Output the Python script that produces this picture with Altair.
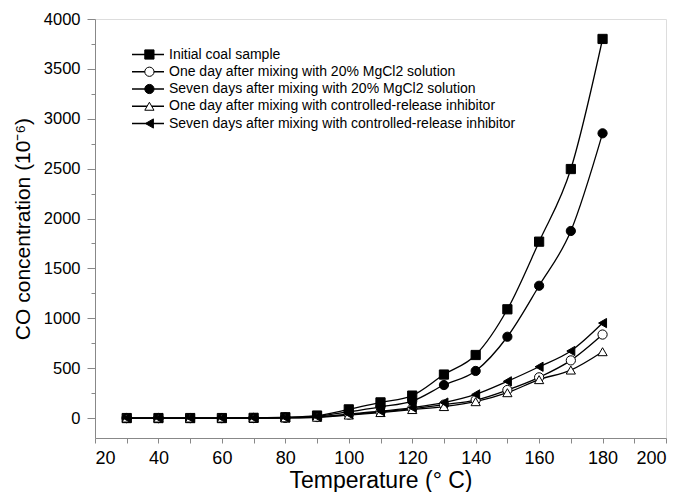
import altair as alt
import pandas as pd

temps = [30, 40, 50, 60, 70, 80, 90, 100, 110, 120, 130, 140, 150, 160, 170, 180]
series_names = [
    "Initial coal sample",
    "One day after mixing with 20% MgCl2 solution",
    "Seven days after mixing with 20% MgCl2 solution",
    "One day after mixing with controlled-release inhibitor",
    "Seven days after mixing with controlled-release inhibitor",
]
initial = [0, 0, 0, 0, 2, 8, 25, 87, 157, 225, 436, 632, 1090, 1768, 2496, 3800]
one_mgcl2 = [0, 0, 0, 0, 0, 3, 10, 35, 62, 95, 135, 180, 281, 408, 578, 837]
seven_mgcl2 = [0, 0, 0, 0, 1, 5, 18, 63, 113, 170, 331, 472, 815, 1326, 1875, 2854]
one_inhib = [0, 0, 0, 0, 0, 2, 8, 30, 55, 85, 115, 164, 254, 385, 481, 665]
seven_inhib = [0, 0, 0, 0, 1, 4, 12, 40, 68, 105, 155, 237, 368, 514, 672, 952]

shapes = ["square", "circle", "circle", "triangle-up", "triangle-left"]
fills = ["black", "white", "black", "white", "black"]

# marker keys (distinct domain so the marker legend is not merged with the line legend)
marker_keys = [n + " " for n in series_names]

rows = []
for name, key, vals in zip(series_names, marker_keys, [initial, one_mgcl2, seven_mgcl2, one_inhib, seven_inhib]):
    for t, v in zip(temps, vals):
        rows.append({"T": t, "CO": v, "series": name, "marker": key})
df = pd.DataFrame(rows)

FONT = "Liberation Sans"

x = alt.X(
    "T:Q",
    scale=alt.Scale(domain=[20, 200], nice=False),
    axis=alt.Axis(
        values=list(range(20, 201, 10)),
        labelExpr="datum.value % 20 == 0 ? datum.label : ''",
        tickSize=5,
        labelPadding=6,
        labelFontSize=18,
        titleFontSize=23,
        titleBaseline="alphabetic",
        titleY=49,
        titleFontWeight="normal",
        grid=False,
    ),
    title="Temperature (° C)",
)
y = alt.Y(
    "CO:Q",
    scale=alt.Scale(domain=[-200, 4000], nice=False),
    axis=alt.Axis(
        values=list(range(0, 4001, 250)),
        labelExpr="datum.value % 500 == 0 ? datum.label : ''",
        format="d",
        tickSize={"condition": {"test": "datum.value % 500 == 0", "value": 8}, "value": 4},
        labelPadding=7,
        labelFontSize=16.5,
        titleFontSize=21,
        titlePadding=10,
        titleFontWeight="normal",
        grid=False,
    ),
    title="CO concentration (10⁻⁶)",
)

base = alt.Chart(df)

lines = base.mark_line(interpolate="monotone", strokeWidth=1.3).encode(
    x=x,
    y=y,
    color=alt.Color(
        "series:N",
        scale=alt.Scale(domain=series_names, range=["black"] * 5),
        legend=alt.Legend(
            orient="none",
            legendX=36,
            legendY=27,
            title=None,
            symbolType="stroke",
            symbolSize=1024,
            symbolStrokeWidth=1.3,
            labelOffset=4,
            labelFont=FONT,
            labelFontSize=14,
            labelColor="black",
            clipHeight=17,
            rowPadding=0.25,
            padding=0,
            labelLimit=500,
        ),
    ),
)

shape_legend = alt.Legend(
    orient="none",
    legendX=47.4,
    legendY=27,
    title=None,
    symbolSize=85,
    symbolStrokeColor="black",
    symbolStrokeWidth=1,
    symbolOpacity=1,
    labelExpr="''",
    clipHeight=17,
    rowPadding=0.25,
    padding=0,
    labelFontSize=14,
)

points = base.mark_point(filled=True, strokeWidth=1, size=85, opacity=1).encode(
    x=x,
    y=y,
    shape=alt.Shape("marker:N", scale=alt.Scale(domain=marker_keys, range=shapes), legend=shape_legend),
    fill=alt.Fill("marker:N", scale=alt.Scale(domain=marker_keys, range=fills), legend=shape_legend),
    stroke=alt.Stroke("marker:N", scale=alt.Scale(domain=marker_keys, range=["black"] * 5), legend=shape_legend),
)

chart = (
    alt.layer(lines, points)
    .properties(
        width=571,
        height=419,
        autosize=alt.AutoSizeParams(type="none"),
        padding={"left": 87, "top": 11, "right": 10, "bottom": 54},
    )
    .configure_view(stroke="black", strokeWidth=1)
    .configure_axis(
        domainColor="black",
        tickColor="black",
        labelColor="black",
        titleColor="black",
        labelFont=FONT,
        titleFont=FONT,
        domainWidth=1,
        tickWidth=1,
    )
    .configure(background="white")
)

chart.save("out.html", embed_options={"renderer": "svg", "actions": False})
